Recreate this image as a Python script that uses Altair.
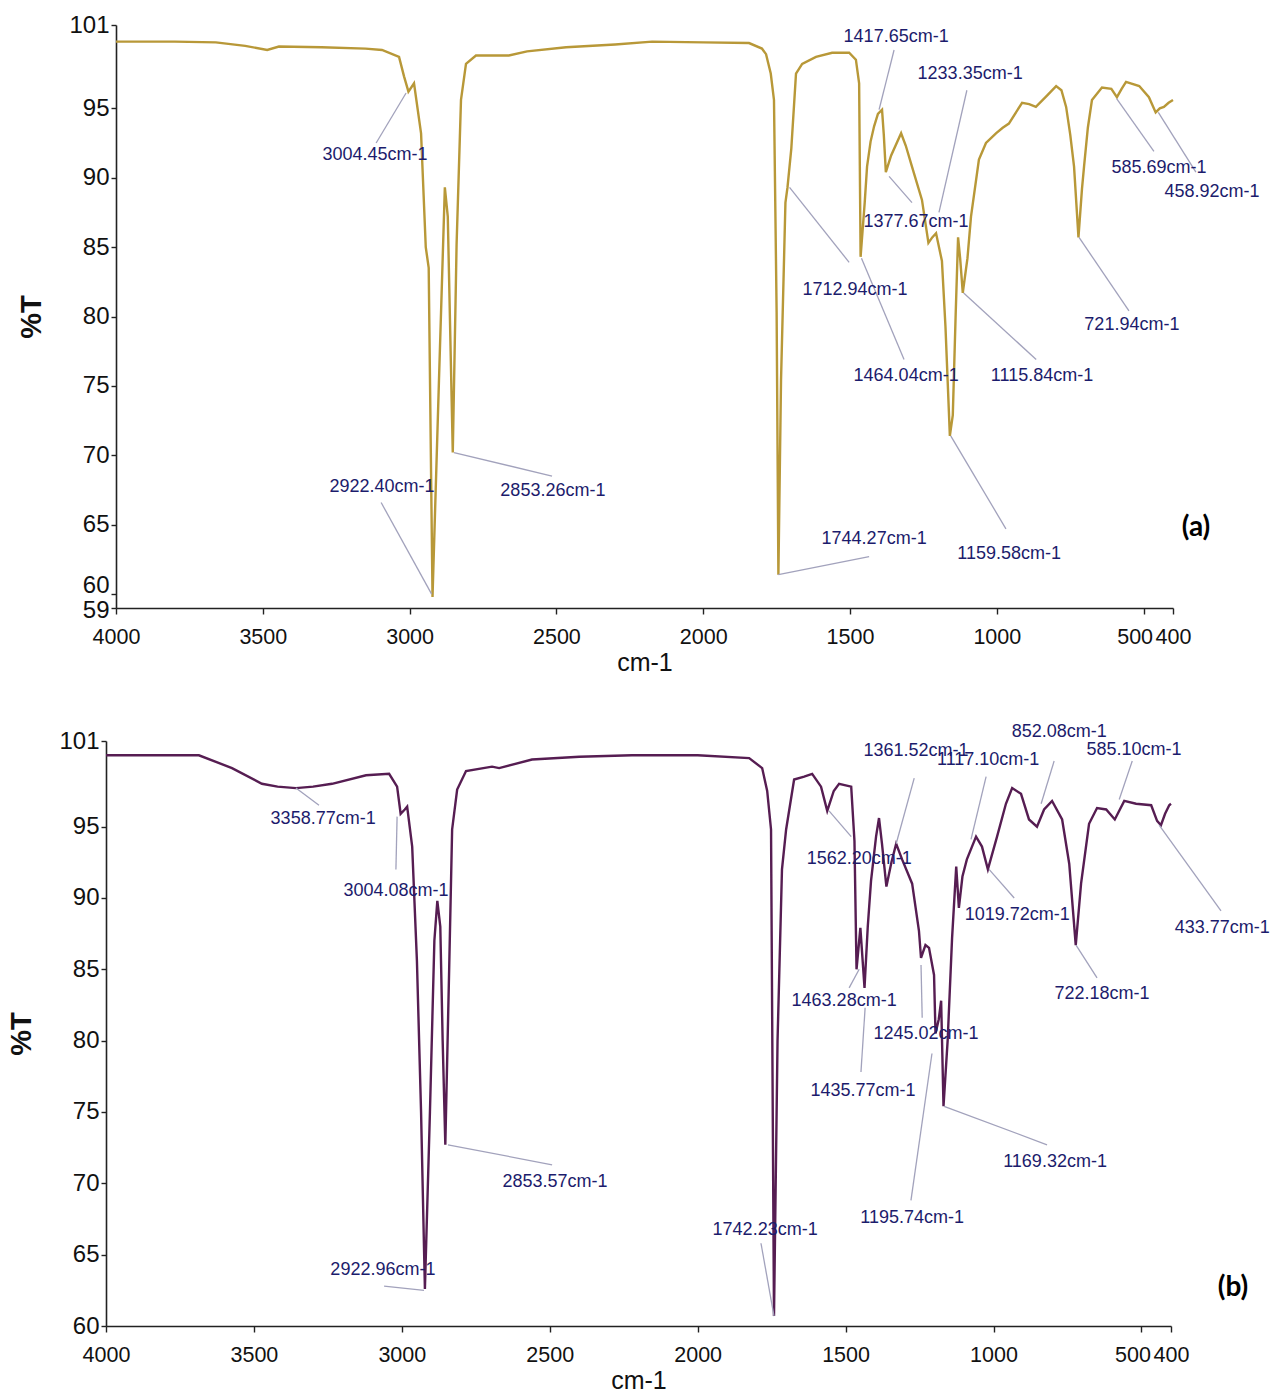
import altair as alt
import pandas as pd

FONT = "Liberation Sans, Arial, sans-serif"
ANN_COLOR = "#1c1c6c"
LEADER = "#a2a2bc"

XTICKS = [4000, 3500, 3000, 2500, 2000, 1500, 1000, 500, 400]

# ---------------- sample (a) ----------------
wn_a = [4000, 3800, 3660, 3560, 3485, 3445, 3300, 3150, 3094, 3036,
        3019, 3004, 2985, 2961, 2945, 2935, 2922, 2900, 2880, 2870,
        2853, 2840, 2825, 2808, 2774, 2662, 2600, 2467, 2300, 2174,
        2000, 1844, 1800, 1786, 1770, 1759, 1750, 1744, 1735, 1720,
        1713, 1700, 1684, 1663, 1616, 1561, 1503, 1480, 1469, 1464,
        1450, 1442, 1430, 1418, 1405, 1391, 1385, 1378, 1360, 1326,
        1310, 1289, 1255, 1233, 1220, 1207, 1187, 1175, 1160, 1150,
        1140, 1132, 1125, 1116, 1100, 1088, 1061, 1037, 1003, 980,
        959, 914, 890, 867, 830, 798, 780, 764, 750, 737,
        722, 710, 703, 690, 676, 642, 610, 591, 575, 560,
        515, 482, 459, 445, 431, 415, 400]
t_a = [99.8, 99.8, 99.75, 99.5, 99.2, 99.45, 99.4, 99.3, 99.2, 98.7,
       97.3, 96.2, 96.8, 93.2, 85.0, 83.5, 59.8, 75.4, 89.3, 87.2,
       70.2, 85.2, 95.6, 98.2, 98.8, 98.8, 99.1, 99.4, 99.6, 99.8,
       99.75, 99.7, 99.3, 98.9, 97.5, 95.6, 80.3, 61.4, 75.4, 88.2,
       89.3, 92.1, 97.5, 98.2, 98.7, 99.0, 99.0, 98.5, 96.8, 84.3,
       88.2, 90.8, 92.6, 93.7, 94.6, 94.9, 93.1, 90.4, 91.6, 93.2,
       92.3, 90.8, 88.4, 85.3, 85.7, 86.0, 84.0, 79.3, 71.4, 72.9,
       80.3, 85.7, 84.2, 81.7, 84.2, 87.2, 91.3, 92.5, 93.2, 93.6,
       93.9, 95.4, 95.3, 95.1, 95.9, 96.6, 96.3, 95.1, 93.1, 90.8,
       85.7, 89.2, 90.8, 93.6, 95.6, 96.5, 96.4, 95.8, 96.4, 96.9,
       96.6, 95.8, 94.7, 95.0, 95.1, 95.4, 95.6]

lab_a = ["3004.45cm-1", "2922.40cm-1", "2853.26cm-1", "1744.27cm-1",
         "1712.94cm-1", "1464.04cm-1", "1417.65cm-1", "1233.35cm-1",
         "1377.67cm-1", "1159.58cm-1", "1115.84cm-1", "721.94cm-1",
         "585.69cm-1", "458.92cm-1"]
peak_x_a = [3012, 2925, 2849, 1744, 1706, 1461, 1401, 1197, 1367, 1157, 1113, 720, 592, 450]
peak_y_a = [96.1, 60.0, 70.2, 61.4, 89.3, 84.2, 94.9, 87.5, 90.1, 71.4, 81.7, 85.7, 95.7, 94.7]
lead_x_a = [3114, 3097, 2515, 1435, 1503, 1316, 1350, 1102, 1289, 969, 866, 550, 465, 322]
lead_y_a = [92.5, 66.6, 68.5, 62.7, 83.9, 76.9, 99.2, 96.3, 88.2, 64.7, 76.9, 80.4, 91.9, 90.4]
text_x_a = [3118, 3094, 2512, 1418, 1483, 1309, 1343, 1091, 1275, 958, 846, 540, 448, 267]
text_y_a = [91.6, 67.7, 67.4, 64.0, 81.9, 75.7, 100.1, 97.5, 86.8, 62.9, 75.7, 79.4, 90.7, 89.0]
yticks_a = [101, 95, 90, 85, 80, 75, 70, 65, 60, 59]

# ---------------- sample (b) ----------------
wn_b = [4000, 3800, 3686, 3574, 3473, 3420, 3358, 3300, 3236, 3121,
        3043, 3016, 3004, 2990, 2982, 2965, 2949, 2935, 2922, 2905,
        2890, 2880, 2870, 2862, 2853, 2840, 2830, 2813, 2783, 2695,
        2671, 2560, 2400, 2222, 2000, 1826, 1782, 1765, 1752, 1742,
        1730, 1715, 1701, 1674, 1640, 1613, 1583, 1562, 1540, 1522,
        1481, 1470, 1463, 1450, 1436, 1425, 1414, 1397, 1387, 1377,
        1362, 1345, 1329, 1309, 1275, 1252, 1245, 1230, 1218, 1201,
        1196, 1185, 1177, 1169, 1155, 1140, 1126, 1117, 1105, 1090,
        1059, 1039, 1019, 988, 958, 937, 907, 880, 853, 829,
        802, 768, 744, 722, 704, 677, 650, 619, 590, 558,
        518, 467, 447, 434, 420, 406, 400]
t_b = [100.0, 100.0, 100.0, 99.1, 98.0, 97.8, 97.7, 97.8, 98.0, 98.6,
       98.7, 97.8, 95.9, 96.2, 96.4, 93.6, 85.6, 75.0, 62.6, 75.0,
       87.0, 89.8, 88.0, 80.0, 72.7, 85.0, 94.8, 97.6, 98.9, 99.2,
       99.1, 99.7, 99.9, 100.0, 100.0, 99.8, 99.1, 97.5, 94.8, 60.7,
       80.0, 92.0, 94.8, 98.3, 98.5, 98.7, 97.8, 96.1, 97.5, 98.0,
       97.8, 94.0, 85.0, 87.9, 83.7, 88.0, 91.2, 94.3, 95.6, 93.8,
       90.8, 92.5, 93.8, 92.7, 91.0, 87.7, 85.8, 86.7, 86.5, 84.6,
       80.5, 81.5, 82.8, 75.4, 80.0, 87.2, 92.2, 89.3, 91.5, 92.7,
       94.3, 93.6, 92.0, 94.3, 96.6, 97.7, 97.3, 95.5, 95.0, 96.2,
       96.8, 95.5, 92.4, 86.7, 91.0, 95.2, 96.3, 96.2, 95.5, 96.8,
       96.6, 96.5, 95.4, 95.1, 95.9, 96.5, 96.6]

lab_b = ["3358.77cm-1", "3004.08cm-1", "2922.96cm-1", "2853.57cm-1",
         "1742.23cm-1", "1562.20cm-1", "1463.28cm-1", "1435.77cm-1",
         "1361.52cm-1", "1117.10cm-1", "852.08cm-1", "585.10cm-1",
         "1019.72cm-1", "722.18cm-1", "433.77cm-1", "1245.02cm-1",
         "1195.74cm-1", "1169.32cm-1"]
peak_x_b = [3358, 3016, 2925, 2844, 1742, 1556, 1454, 1434, 1329, 1076, 839, 575, 1015, 721, 440, 1245, 1208, 1167]
peak_y_b = [97.7, 95.7, 62.5, 72.7, 60.7, 96.1, 85.0, 82.3, 93.8, 94.1, 96.6, 96.9, 92.0, 86.7, 95.1, 85.3, 79.1, 75.4]
lead_x_b = [3280, 3020, 3060, 2492, 1786, 1481, 1488, 1448, 1268, 1025, 795, 531, 930, 650, 231, 1241, 1279, 819]
lead_y_b = [96.5, 92.0, 62.8, 71.3, 65.8, 94.3, 83.7, 77.8, 98.4, 98.5, 99.6, 99.6, 90.0, 84.4, 89.1, 81.6, 68.8, 72.7]
text_x_b = [3266, 3020, 3064, 2482, 1772, 1454, 1505, 1441, 1262, 1018, 778, 525, 920, 633, 227, 1228, 1275, 792]
text_y_b = [95.5, 90.5, 63.9, 70.1, 66.7, 92.7, 82.8, 76.5, 100.3, 99.7, 101.6, 100.4, 88.8, 83.3, 87.9, 80.5, 67.6, 71.5]
yticks_b = [101, 95, 90, 85, 80, 75, 70, 65, 60]


def panel(wn, t, labels, pkx, pky, ldx, ldy, tx, ty, ydom, yticks, color,
          width, height, xrange, yoff, tag, tagx, tagy, ylab_offsets):
    spec = pd.DataFrame({"wn": wn, "t": t})
    ann = pd.DataFrame({"label": labels, "px": pkx, "py": pky,
                        "lx": ldx, "ly": ldy, "tx": tx, "ty": ty})
    xscale = alt.Scale(domain=[4000, 400], range=xrange, nice=False, zero=False)
    yscale = alt.Scale(domain=ydom, nice=False, zero=False)
    xaxis = alt.Axis(values=XTICKS, title="cm-1", format="d",
                     labelOverlap=False, labelFlush=False,
                     labelOffset={"condition": {"test": "datum.value === 500", "value": -9},
                                  "value": 0},
                     tickSize=6, labelPadding=12, titlePadding=3,
                     labelFontSize=21.5, titleFontSize=25, titleFontWeight="normal")
    yaxis_kw = dict(values=yticks, title="%T", format="d", offset=yoff, labelOverlap=False,
                    tickSize=5, labelPadding=2, titlePadding=22,
                    labelFontSize=24, titleFontSize=29, titleFontWeight="bold")
    if ylab_offsets:
        yaxis_kw["labelOffset"] = {
            "condition": [{"test": "datum.value === %d" % v, "value": o}
                          for v, o in ylab_offsets],
            "value": 0,
        }
    yaxis = alt.Axis(**yaxis_kw)
    line = alt.Chart(spec).mark_line(color=color, strokeWidth=2.4).encode(
        x=alt.X("wn:Q", scale=xscale, axis=xaxis),
        y=alt.Y("t:Q", scale=yscale, axis=yaxis),
    )
    rules = alt.Chart(ann).mark_rule(color=LEADER, strokeWidth=1.3).encode(
        x=alt.X("px:Q", title="cm-1"), y=alt.Y("py:Q", title="%T"),
        x2="lx:Q", y2="ly:Q",
    )
    texts = alt.Chart(ann).mark_text(font=FONT, fontSize=18, color=ANN_COLOR,
                                     align="center", baseline="middle").encode(
        x=alt.X("tx:Q", title="cm-1"), y=alt.Y("ty:Q", title="%T"), text="label:N",
    )
    tagc = alt.Chart(pd.DataFrame({"tag": [tag]})).mark_text(
        font="Lato", fontSize=28, fontWeight="bold", color="black",
        align="center", baseline="middle").encode(
        x=alt.value(tagx), y=alt.value(tagy), text="tag:N",
    )
    return alt.layer(line, rules, texts, tagc).properties(width=width, height=height)


pa = panel(wn_a, t_a, lab_a, peak_x_a, peak_y_a, lead_x_a, lead_y_a, text_x_a, text_y_a,
           [59, 101], yticks_a, "#b89838", 1067, 583, [10, 1067], -10, "(a)", 1090, 503,
           [(60, -9), (59, 2)])
pb = panel(wn_b, t_b, lab_b, peak_x_b, peak_y_b, lead_x_b, lead_y_b, text_x_b, text_y_b,
           [60, 101], yticks_b, "#561d52", 1065, 585, [0, 1065], 0, "(b)", 1127, 547,
           [])

chart = alt.vconcat(pa, pb, spacing=47).properties(
    padding={"left": 7, "top": 13, "right": 0, "bottom": 0},
    background="white",
).configure_view(stroke=None).configure_axis(
    grid=False, domainColor="#222", domainWidth=1.6, tickColor="#222", tickWidth=1.4,
    labelColor="#111", titleColor="#111", labelFont=FONT, titleFont=FONT,
)

chart.save("out.html", embed_options={"renderer": "svg", "actions": False})
